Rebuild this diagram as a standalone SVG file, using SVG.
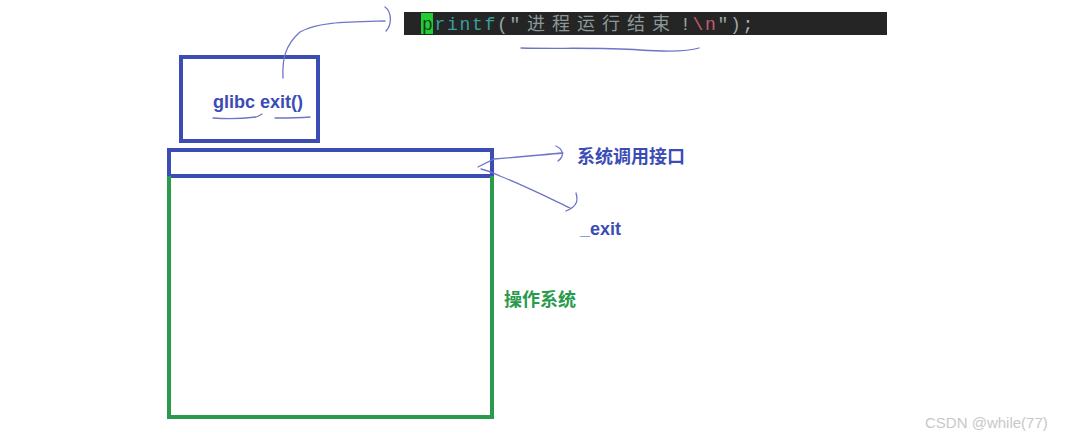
<svg xmlns="http://www.w3.org/2000/svg" width="1088" height="440" viewBox="0 0 1088 440">
<style>
.box{fill:none;stroke-width:4}
.blue{stroke:#3b4cb5}
.green{stroke:#2a9a4c}
.hand{fill:none;stroke:#6e74c8;stroke-width:1.3;stroke-linecap:round}
.lbl{font-family:"Liberation Sans","Noto Sans CJK SC",sans-serif;font-weight:bold;font-size:18px}
.mono{font-family:"Liberation Mono","Noto Sans CJK SC",monospace;font-size:18px}
</style>
<rect width="1088" height="440" fill="#ffffff"/>
<g id="code">
<rect x="404" y="12" width="483" height="23" fill="#252525"/>
<rect x="421" y="13" width="12" height="21" fill="#22cc33"/>
<text class="mono" y="30" letter-spacing="1.7"><tspan x="422" fill="#1a3a1a">p</tspan><tspan fill="#3a9ea0">rintf</tspan><tspan fill="#9aa8a8">("</tspan></text>
<text class="mono" x="527" y="30" fill="#8a9898" letter-spacing="7">进程运行结束</text>
<text class="mono" x="680" y="30" letter-spacing="1.7"><tspan fill="#9aa8a8">!</tspan><tspan fill="#c65a72">\n</tspan><tspan fill="#9aa8a8">")</tspan><tspan fill="#b0b0b0">;</tspan></text>
</g>
<g id="glibc">
<rect class="box blue" x="181" y="57" width="137" height="84"/>
<text class="lbl" x="213" y="108" fill="#3b4cb5">glibc exit()</text>
</g>
<g id="syscall">
<rect class="box blue" x="169" y="150" width="323" height="26"/>
</g>
<g id="os">
<path class="box green" d="M169,176 V417 H492 V176"/>
<text class="lbl" x="504" y="306" fill="#2a9a4c">操作系统</text>
</g>
<g id="labels">
<text class="lbl" x="577" y="163" fill="#3b4cb5">系统调用接口</text>
<text class="lbl" x="580" y="235" fill="#3b4cb5">_exit</text>
</g>
<g id="connectors">
<path class="hand" d="M283,78 C282,60 285,45 300,32 C318,22 345,22 385,21"/>
<path class="hand" d="M385,7 C392,12 392,25 386,31"/>
<path class="hand" d="M521,48 C560,49 600,47 640,50 C670,52 690,51 699,48"/>
<path class="hand" d="M213,118 C225,119 240,119 256,117 C259,116 260,115 262,114"/>
<path class="hand" d="M275,118 C285,118 298,118 310,117"/>
<path class="hand" d="M478,167 C486,163 490,161 494,159 C520,157 540,155 563,153"/>
<path class="hand" d="M556,146 C563,149 565,156 558,161"/>
<path class="hand" d="M481,169 C490,171 496,174 500,176 C525,186 545,196 570,208"/>
<path class="hand" d="M576,193 C578,200 578,206 566,211"/>
</g>
<text x="925" y="428" font-family="Liberation Sans,sans-serif" font-size="15" fill="#c8c8c8">CSDN @while(77)</text>
</svg>
